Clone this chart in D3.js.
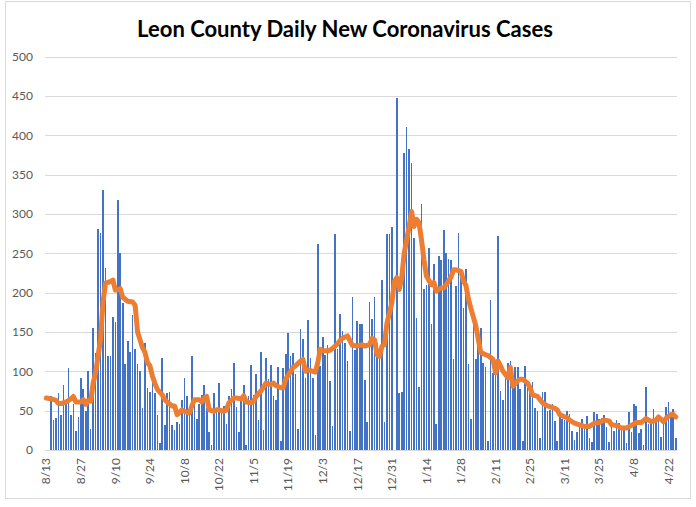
<!DOCTYPE html>
<html>
<head>
<meta charset="utf-8">
<script src="https://cdn.jsdelivr.net/npm/d3@7"></script>
<style>
  html, body { margin: 0; padding: 0; background: #ffffff; }
  svg { display: block; }
</style>
</head>
<body>
<svg id="chart" width="696" height="507"></svg>
<script>
// ---- Data ----
const chartTitle = "Leon County Daily New Coronavirus Cases";
const firstDay = "8/13/2020";
const tickLabels = ["8/13","8/27","9/10","9/24","10/8","10/22","11/5","11/19","12/3","12/17",
                    "12/31","1/14","1/28","2/11","2/25","3/11","3/25","4/8","4/22"];
const yTicks = [0, 50, 100, 150, 200, 250, 300, 350, 400, 450, 500];

// daily new cases, one per day starting 8/13 (first two days have no bar)
const dailyCases = [
  null, null,
  69, 38, 41, 73, 45, 82, 60, 104, 44, 58, 24, 42, 92, 78, 49, 100, 27, 155, 123, 281,
  276, 330, 231, 120, 119, 169, 163, 318, 250, 187, 109, 138, 124, 172, 128, 109, 100, 53, 136, 79,
  74, 88, 72, 45, 9, 117, 32, 72, 74, 32, 26, 36, 33, 63, 91, 68, 45, 119, 66, 40,
  58, 70, 82, 53, 23, 6, 72, 51, 85, 47, 56, 33, 69, 77, 110, 55, 23, 69, 83, 6, 68, 108, 70,
  97, 38, 124, 26, 117, 90, 108, 69, 63, 106, 12, 104, 122, 149, 119, 123, 97, 27, 154, 141,
  91, 165, 117, 91, 19, 262, 107, 144, 121, 133, 88, 31, 274, 128, 173, 151, 136, 113, 24, 194,
  127, 164, 160,
  160, 89, 36, 188, 167, 195, 136, 119, 216, 36, 274, 275, 283, 0, 447, 73, 74, 378, 410, 382,
  365, 269, 168, 80, 313, 204, 210, 257, 160, 236, 33, 246, 241, 279, 250, 243, 242, 116, 208, 276,
  220, 180,
  230, 109, 40, 162, 115, 141, 155, 110, 105, 12, 191, 98, 100, 272, 75, 64, 95, 111, 113, 85,
  106, 106, 78, 11, 107, 88, 80, 86, 53, 49, 15, 74, 74, 50, 51, 59, 37, 12, 44, 40, 38, 49, 46,
  24, 13, 23, 32, 40, 32, 43, 15, 10, 48, 46, 40, 41, 45, 29, 10, 29, 24, 38, 34,
  31, 25, 9, 48, 23, 59, 56, 22, 27, 6, 80, 33, 33, 52, 38, 38, 17, 38, 55, 61, 45, 52, 15
];

// orange average line: day index (from 8/13) and value
const avgDay = [
  0, 2, 4, 5, 6, 8, 10, 11, 12, 14, 15, 16, 17, 18, 19, 20, 22, 23, 24, 26,
  27, 28, 30, 31, 33, 35, 36, 37, 39, 40, 41, 42, 43, 44, 45, 47, 48, 49, 51, 52,
  53, 55, 56, 58, 59, 60, 62, 63, 64, 65, 66, 68, 69, 70, 72, 73, 74, 76, 77, 79,
  80, 81, 83, 84, 85, 87, 88, 89, 91, 92, 93, 95, 96, 97, 99, 100, 101, 103, 104, 105,
  106, 108, 109, 110, 111, 112, 114, 115, 116, 118, 119, 120, 122, 123, 124, 126, 127, 128, 129, 131,
  132, 133, 134, 135, 136, 137, 138, 140, 141, 142, 143, 144, 145, 147, 148, 149, 150, 151, 152, 153,
  154, 156, 157, 158, 160, 161, 162, 164, 165, 166, 168, 169, 170, 171, 172, 174, 175, 176, 178, 179,
  181, 182, 183, 184, 185, 187, 188, 189, 191, 192, 193, 195, 196, 197, 199, 200, 201, 203, 204, 206,
  207, 208, 210, 211, 212, 214, 216, 218, 220, 222, 224, 226, 228, 229, 231, 233, 235, 237, 239, 241,
  243, 245, 247, 248, 250, 251, 253, 254, 255
];
const avgValue = [
  66, 65, 63, 59, 59, 61, 65, 68, 61, 61, 64, 58, 63, 62, 85, 98, 141, 188, 212, 214,
  216, 203, 205, 194, 189, 188, 184, 150, 130, 124, 111, 107, 94, 85, 77, 70, 64, 61, 56, 56,
  45, 51, 49, 47, 56, 64, 64, 61, 66, 68, 51, 49, 51, 51, 49, 51, 60, 66, 66, 65,
  69, 61, 60, 62, 68, 75, 80, 85, 83, 85, 82, 79, 79, 90, 100, 105, 107, 113, 115, 100,
  102, 100, 99, 111, 128, 126, 126, 127, 129, 135, 139, 142, 145, 139, 133, 132, 133, 134, 132, 134,
  142, 140, 121, 119, 132, 134, 161, 187, 214, 219, 204, 219, 250, 284, 303, 284, 293, 289, 267, 242,
  221, 210, 213, 202, 206, 206, 210, 220, 229, 229, 227, 215, 209, 192, 180, 158, 141, 124, 121, 120,
  115, 98, 113, 107, 100, 92, 105, 81, 88, 90, 90, 85, 79, 70, 68, 64, 60, 56, 55, 53,
  51, 45, 42, 41, 38, 34, 32, 30, 30, 34, 35, 38, 37, 32, 31, 28, 28, 31, 35, 35,
  40, 36, 38, 42, 36, 40, 45, 45, 42
];

// ---- Layout ----
const svg = d3.select("#chart");
const plotLeft = 45, plotRight = 677, plotTop = 56.5, plotBottom = 450;
const fontFamily = "Lato, 'Open Sans', 'Liberation Sans', sans-serif";

// outer chart border
svg.append("rect")
  .attr("x", 5.5).attr("y", 1.5).attr("width", 685).attr("height", 497)
  .attr("fill", "#ffffff").attr("stroke", "#d9d9d9").attr("stroke-width", 1);

const days = d3.range(dailyCases.length);
const x = d3.scaleBand().domain(days).range([plotLeft, plotRight]).paddingInner(0.34).paddingOuter(0.17);
const y = d3.scaleLinear().domain([0, 500]).range([plotBottom, plotTop]);

// gridlines
svg.append("g")
  .selectAll("line")
  .data(yTicks.filter(t => t > 0))
  .join("line")
  .attr("x1", plotLeft).attr("x2", plotRight)
  .attr("y1", d => Math.round(y(d)) + 0.5).attr("y2", d => Math.round(y(d)) + 0.5)
  .attr("stroke", "#d9d9d9").attr("stroke-width", 1);

// y axis labels
const yAxis = d3.axisLeft(y).tickValues(yTicks).tickSize(0).tickPadding(12);
const gy = svg.append("g").attr("transform", `translate(${plotLeft},0)`).call(yAxis);
gy.select(".domain").remove();
gy.selectAll("text")
  .attr("fill", "#595959")
  .style("font-family", fontFamily).style("font-size", "12px");

// bars
svg.append("g")
  .attr("shape-rendering", "crispEdges")
  .selectAll("rect")
  .data(days.filter(d => dailyCases[d] != null && dailyCases[d] > 0))
  .join("rect")
  .attr("x", d => x(d))
  .attr("width", x.bandwidth())
  .attr("y", d => y(dailyCases[d]))
  .attr("height", d => plotBottom - y(dailyCases[d]))
  .attr("fill", "#4472C4");

// baseline
svg.append("line")
  .attr("x1", plotLeft).attr("x2", plotRight)
  .attr("y1", Math.round(plotBottom) + 0.5).attr("y2", Math.round(plotBottom) + 0.5)
  .attr("stroke", "#d9d9d9").attr("stroke-width", 1);

// average line
const avgPoints = avgDay.map((d, i) => [d, avgValue[i]]);
const line = d3.line()
  .x(p => x(p[0]) + x.bandwidth() / 2)
  .y(p => y(p[1]));
svg.append("path")
  .datum(avgPoints)
  .attr("d", line)
  .attr("fill", "none")
  .attr("stroke", "#ED7D31")
  .attr("stroke-width", 5)
  .attr("stroke-linejoin", "round")
  .attr("stroke-linecap", "round");

// x axis labels (rotated)
const tickDays = tickLabels.map((_, i) => i * 14);
const xAxis = d3.axisBottom(x).tickValues(tickDays)
  .tickFormat((d, i) => tickLabels[i]).tickSize(0);
const gx = svg.append("g").attr("transform", `translate(0,${plotBottom})`).call(xAxis);
gx.select(".domain").remove();
gx.selectAll("text")
  .attr("fill", "#595959")
  .style("font-family", fontFamily).style("font-size", "12px")
  .attr("text-anchor", "end")
  .attr("dy", "0.35em")
  .attr("y", 0)
  .attr("transform", "translate(0,8) rotate(-90)")
  .attr("x", 0);

// title
const title = svg.append("text")
  .attr("x", 345).attr("y", 37)
  .attr("text-anchor", "middle")
  .attr("fill", "#000000")
  .style("font-family", fontFamily)
  .style("font-weight", "bold")
  .style("font-size", "20px")
  .text(chartTitle);
const tw = title.node().getComputedTextLength();
if (tw > 0) title.style("font-size", (20 * 416 / tw).toFixed(2) + "px");
</script>
</body>
</html>
